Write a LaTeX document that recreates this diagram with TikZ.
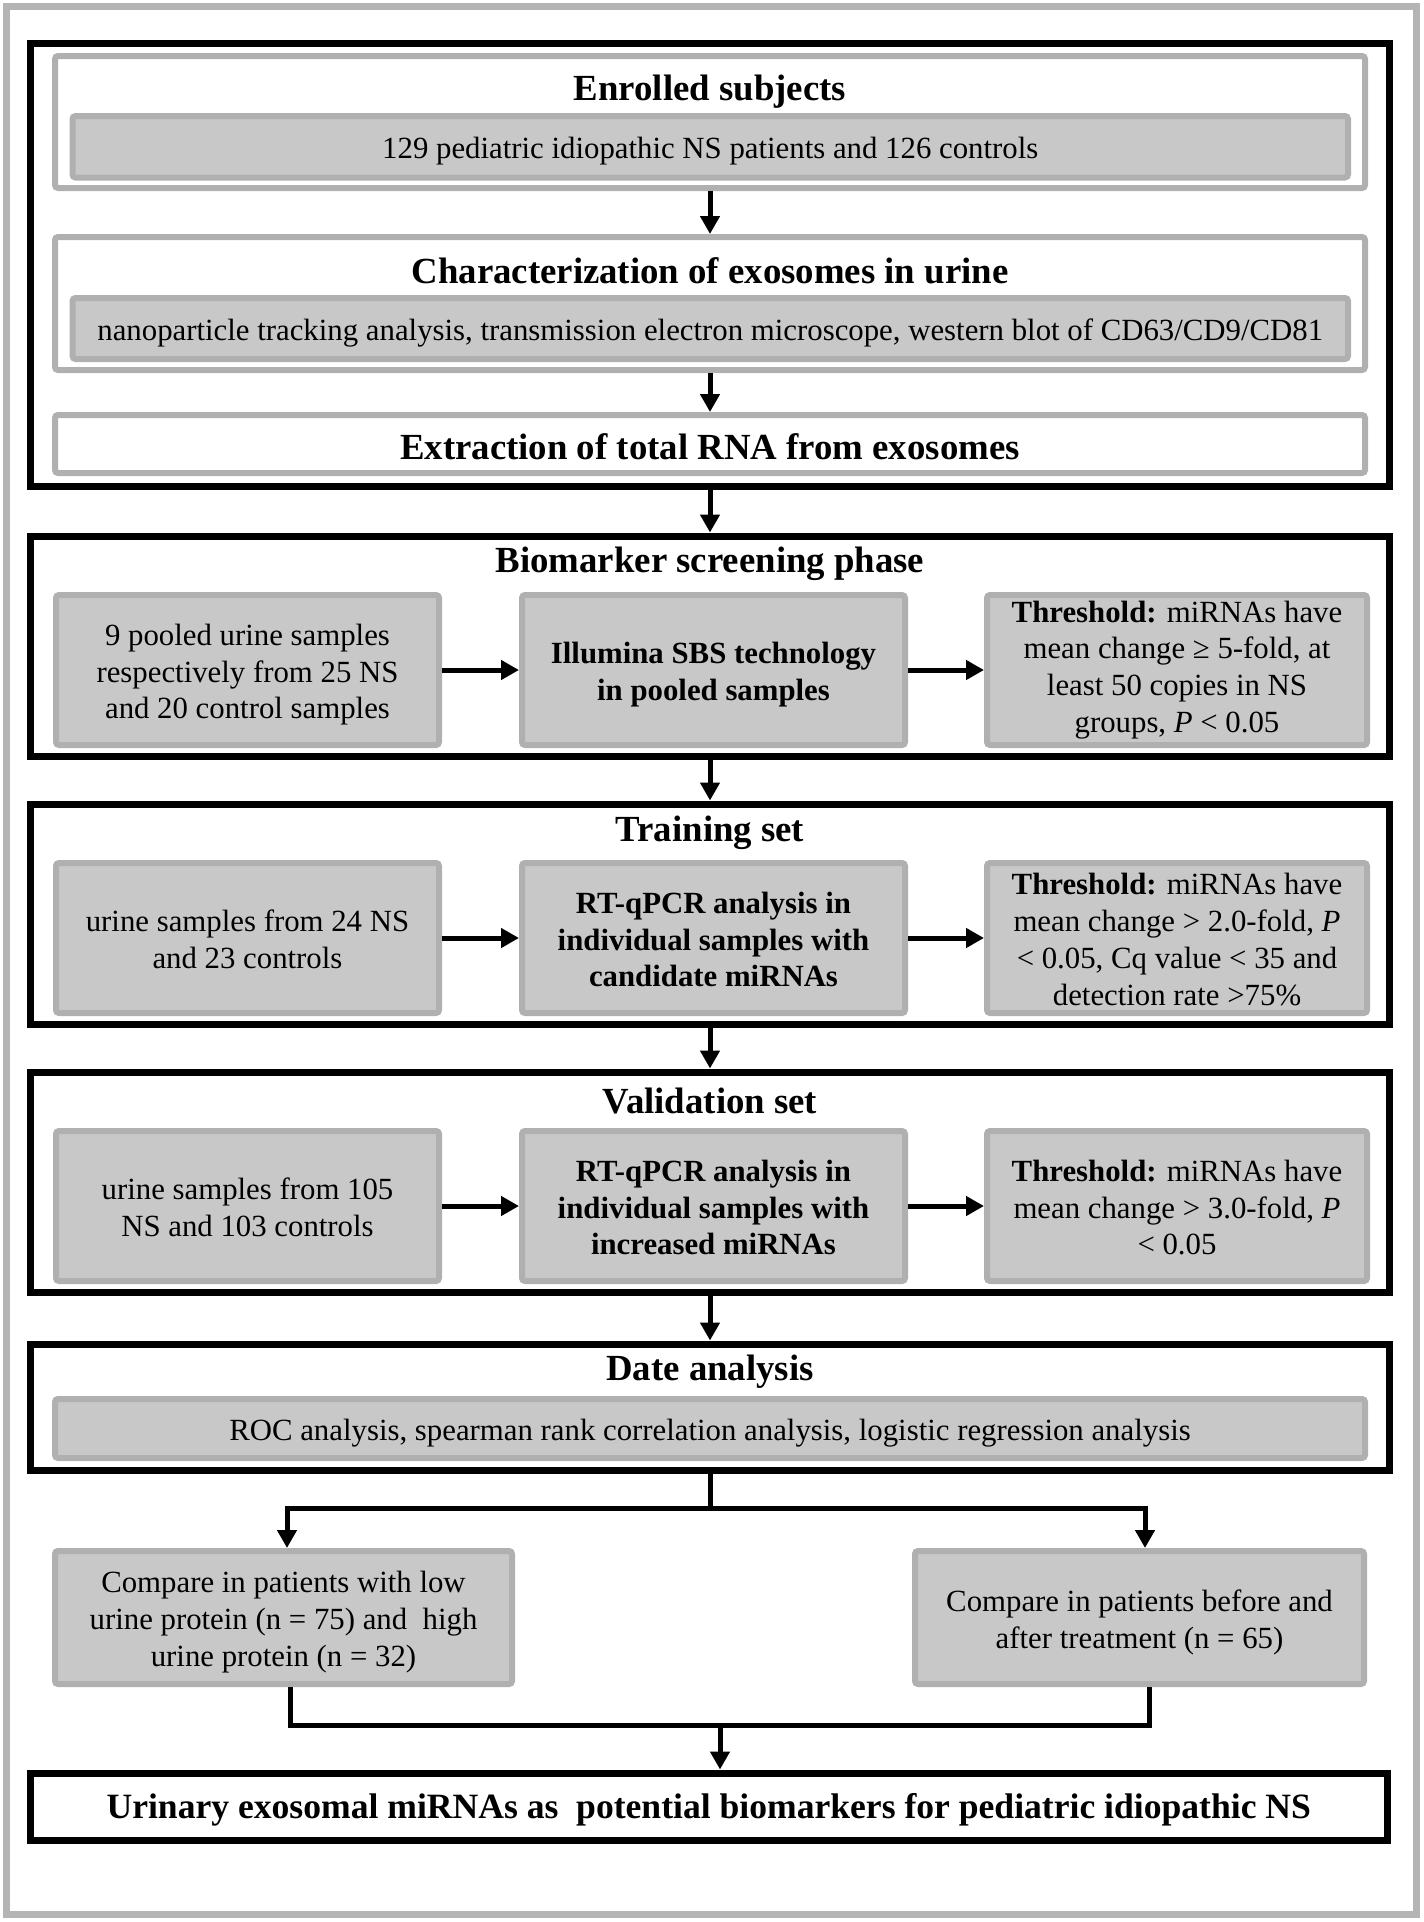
\documentclass[tikz,border=0pt]{standalone}
\usepackage{fontspec}
\setmainfont{Liberation Serif}
\usetikzlibrary{arrows.meta,fit}
\definecolor{gfill}{HTML}{C8C8C8}
\definecolor{gline}{HTML}{B0B0B0}
\definecolor{gframe}{HTML}{B4B4B4}
\newcommand{\dn}[1]{\raisebox{-2.4pt}[\height][\depth]{\begin{tabular}{@{}c@{}}#1\end{tabular}}}
\begin{document}
\begin{tikzpicture}[x=0.5pt,y=-0.5pt,
 frame/.style={draw=black, line width=3.5pt, inner sep=0pt},
 wbox/.style={draw=gline, line width=3pt, inner sep=0pt, fill=white, rounded corners=1.5pt},
 gbox/.style={draw=gline, line width=3pt, fill=gfill, rounded corners=1.5pt, inner sep=0pt, align=center, font=\fontsize{15.4}{18.4}\selectfont},
 bbox/.style={gbox, font=\fontsize{15.4}{18.4}\selectfont\bfseries},
 ttl/.style={font=\fontsize{18.4}{22}\selectfont\bfseries, inner sep=0pt},
 ln/.style={line width=2.5pt, line join=miter},
 arr/.style={ln, -{Triangle[length=9pt,width=9.5pt]}},
 darr/.style={ln, {Triangle[length=9pt,width=9.5pt]}-{Triangle[length=9pt,width=9.5pt]}},
]
\fill[white] (0,0) rectangle (1424,1922);
\useasboundingbox (0,0) rectangle (1424,1922);
\node[draw=gframe, line width=3.2pt, inner sep=0pt, fit={(6.5,6.5) (1416.5,1914.5)}] (outer) {};

% ---------- top frame
\node[frame, fit={(30.5,43.5) (1389.5,486)}] (f1) {};
\node[wbox, fit={(55,56) (1365,188)}] (enr) {};
\node[ttl] (enrT) at (710,92) {Enrolled subjects};
\node[gbox, minimum width=637.75pt, minimum height=30.75pt] (enrB) at (710.25,146.75) {\dn{129 pediatric idiopathic NS patients and 126 controls}};

\node[wbox, fit={(55,237) (1365,370)}] (chr) {};
\node[ttl] (chrT) at (710,271) {Characterization of exosomes in urine};
\node[gbox, minimum width=637.75pt, minimum height=30.5pt] (chrB) at (710.25,328.5) {\dn{nanoparticle tracking analysis, transmission electron microscope, western blot of CD63/CD9/CD81}};

\node[wbox, fit={(55,415) (1365,473)}] (ex) {};
\node[ttl, yshift=-1.5pt] (exT) at (ex.center) {Extraction of total RNA from exosomes};

\draw[arr] (enr.south) -- (chr.north);
\draw[arr] (chr.south) -- (ex.north);

% ---------- biomarker screening
\node[frame, fit={(30.5,536) (1389.5,756.5)}] (f2) {};
\node[ttl] (f2T) at (710,564) {Biomarker screening phase};
\node[gbox, minimum width=191.5pt, minimum height=75pt] (a1) at (247.5,670) {\dn{9 pooled urine samples\\respectively from 25 NS\\and 20 control samples}};
\node[bbox, minimum width=191.5pt, minimum height=75pt] (a2) at (713.5,670) {\dn{Illumina SBS technology\\in pooled samples}};
\node[gbox, minimum width=190pt, minimum height=75pt] (a3) at (1177,670) {\textbf{Threshold:} miRNAs have\\mean change ≥ 5-fold, at\\least 50 copies in NS\\groups, \textit{P} < 0.05};
\draw[arr] (a1.east) -- (a2.west);
\draw[arr] (a2.east) -- (a3.west);

% ---------- training set
\node[frame, fit={(30.5,804) (1389.5,1024.5)}] (f3) {};
\node[ttl] (f3T) at (710,833) {Training set};
\node[gbox, minimum width=191.5pt, minimum height=75pt] (t1) at (247.5,938) {\dn{urine samples from 24 NS\\and 23 controls}};
\node[bbox, minimum width=191.5pt, minimum height=75pt] (t2) at (713.5,938) {\dn{RT-qPCR analysis in\\individual samples with\\candidate miRNAs}};
\node[gbox, minimum width=190pt, minimum height=75pt] (t3) at (1177,938) {\dn{\textbf{Threshold:} miRNAs have\\mean change > 2.0-fold, \textit{P}\\< 0.05, Cq value < 35 and\\detection rate >75\%}};
\draw[arr] (t1.east) -- (t2.west);
\draw[arr] (t2.east) -- (t3.west);

% ---------- validation set
\node[frame, fit={(30.5,1072) (1389.5,1292.5)}] (f4) {};
\node[ttl] (f4T) at (710,1101) {Validation set};
\node[gbox, minimum width=191.5pt, minimum height=75pt] (v1) at (247.5,1206) {\dn{urine samples from 105\\NS and 103 controls}};
\node[bbox, minimum width=191.5pt, minimum height=75pt] (v2) at (713.5,1206) {\dn{RT-qPCR analysis in\\individual samples with\\increased miRNAs}};
\node[gbox, minimum width=190pt, minimum height=75pt] (v3) at (1177,1206) {\dn{\textbf{Threshold:} miRNAs have\\mean change > 3.0-fold, \textit{P}\\< 0.05}};
\draw[arr] (v1.east) -- (v2.west);
\draw[arr] (v2.east) -- (v3.west);

% ---------- date analysis
\node[frame, fit={(30.5,1344) (1389.5,1470)}] (f5) {};
\node[ttl] (f5T) at (710,1372) {Date analysis};
\node[gbox, minimum width=655pt, minimum height=29.5pt] (dB) at (710,1428.5) {\dn{ROC analysis, spearman rank correlation analysis, logistic regression analysis}};

\draw[arr] (f1.south) -- (f2.north);
\draw[arr] (f2.south) -- (f3.north);
\draw[arr] (f3.south) -- (f4.north);
\draw[arr] (f4.south) -- (f5.north);

% ---------- comparisons
\node[gbox, minimum width=228.5pt, minimum height=66.5pt] (cl) at (283.5,1617.5) {\dn{Compare in patients with low\\urine protein (n = 75) and\ \ high\\urine protein (n = 32)}};
\node[gbox, minimum width=224.5pt, minimum height=66.5pt] (cr) at (1139.5,1617.5) {\dn{Compare in patients before and\\after treatment (n = 65)}};

\coordinate (jl) at (287,1508);
\coordinate (jr) at (1145,1508);
\draw[ln] (f5.south) -- (f5.south |- jl);
\draw[darr] (jl |- cl.north) -- (jl) -- (jr) -- (jr |- cr.north);

% ---------- final
\node[frame, fit={(30,1773) (1387.5,1840)}] (fin) {};
\node[ttl, font=\fontsize{17.8}{21}\selectfont\bfseries, yshift=-1.5pt] (finT) at (fin.center) {Urinary exosomal miRNAs as\ \ potential biomarkers for pediatric idiopathic NS};

\coordinate (kl) at (290,1725);
\coordinate (kr) at (1149,1725);
\coordinate (km) at (720,1725);
\draw[ln] (kl |- cl.south) -- (kl) -- (kr) -- (kr |- cr.south);
\draw[arr] (km) -- (km |- fin.north);
\end{tikzpicture}
\end{document}
